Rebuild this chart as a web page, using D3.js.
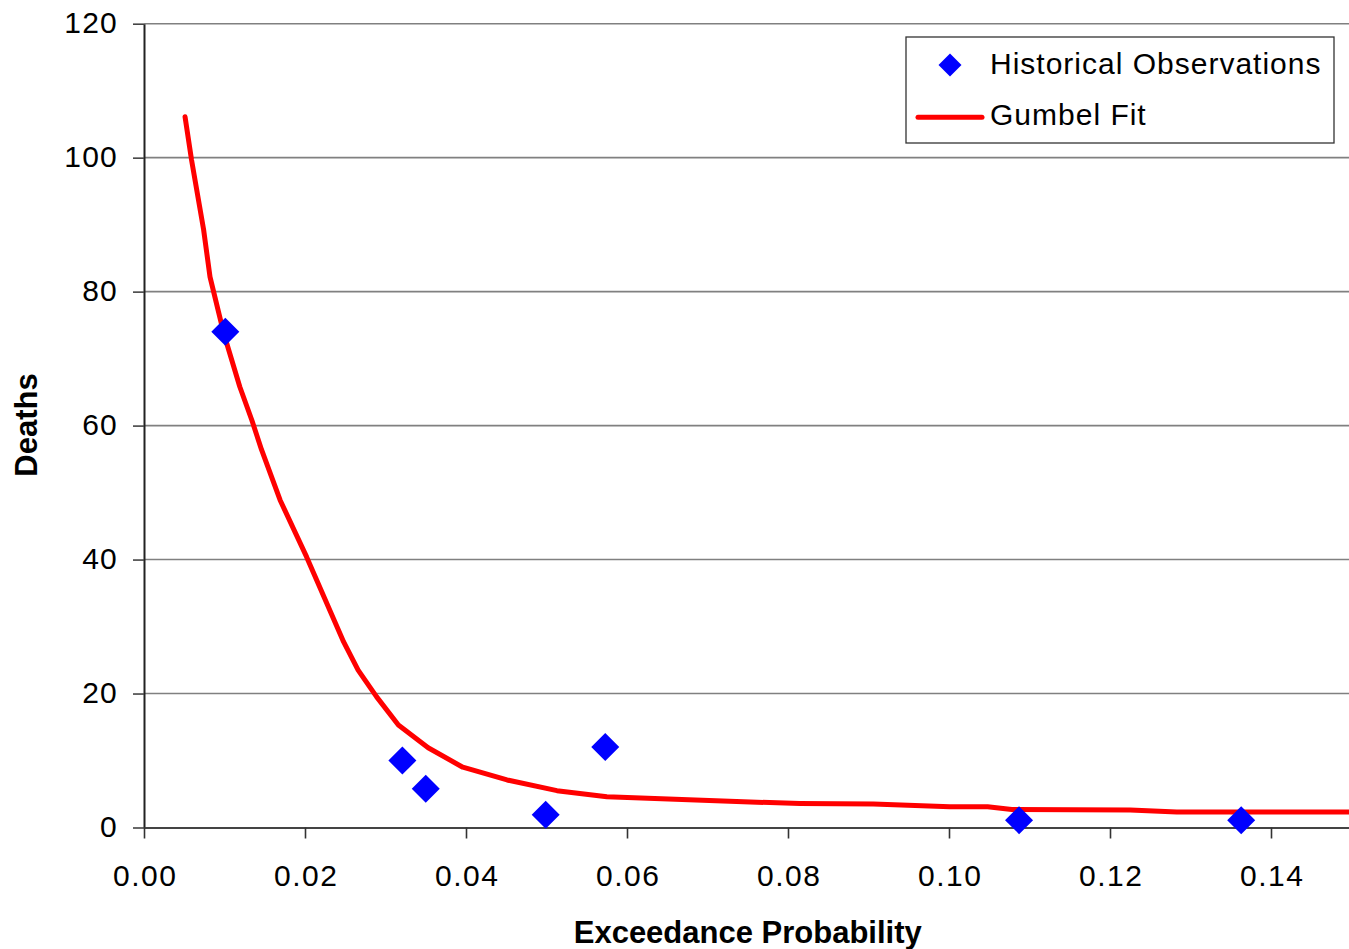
<!DOCTYPE html>
<html>
<head>
<meta charset="utf-8">
<script src="https://cdn.jsdelivr.net/npm/d3@7"></script>
<style>
  html, body { margin: 0; padding: 0; background: #fff; overflow: hidden; }
  svg { display: block; font-family: "Liberation Sans", Arial, sans-serif; }
</style>
</head>
<body>
<svg id="chart" width="1349" height="949"></svg>
<script>
// Historical observations (exceedance probability, deaths)
const obsProb   = [0.0101, 0.0321, 0.0350, 0.0499, 0.0573, 0.1087, 0.1363];
const obsDeaths = [74, 10, 5.8, 1.9, 12, 1.1, 1.1];

// Gumbel fit curve
const fitProb   = [0.0051, 0.0059, 0.0074, 0.0082, 0.0099, 0.0119, 0.0134, 0.0146, 0.0169, 0.0202,
                   0.0248, 0.0266, 0.0289, 0.0316, 0.0353, 0.0396, 0.0451, 0.0513, 0.0575, 0.0753,
                   0.0815, 0.0906, 0.1001, 0.1048, 0.1078, 0.1225, 0.1283, 0.1500];
const fitDeaths = [106.1, 99.7, 89.3, 82.2, 73.8, 65.8, 60.8, 56.4, 48.9, 40.4,
                   27.7, 23.5, 19.5, 15.3, 11.9, 9.0, 7.1, 5.5, 4.6, 3.8,
                   3.6, 3.5, 3.1, 3.1, 2.7, 2.6, 2.3, 2.3];

const xTicks = [0, 0.02, 0.04, 0.06, 0.08, 0.10, 0.12, 0.14];
const yTicks = [0, 20, 40, 60, 80, 100, 120];

const xTitle = "Exceedance Probability";
const yTitle = "Deaths";
const legendLabels = ["Historical Observations", "Gumbel Fit"];

const svg = d3.select("#chart");
svg.append("rect").attr("width", 1349).attr("height", 949).attr("fill", "#fff");

const x = d3.scaleLinear().domain([0, 0.15]).range([144, 1351.5]);
const y = d3.scaleLinear().domain([0, 120]).range([827.5, 23.7]);

// gridlines
svg.append("g").selectAll("line")
  .data(yTicks.filter(d => d > 0))
  .join("line")
  .attr("x1", x(0)).attr("x2", x(0.15))
  .attr("y1", d => y(d)).attr("y2", d => y(d))
  .attr("stroke", "#808080").attr("stroke-width", 1.6);

// y axis
const yAxis = svg.append("g").attr("transform", `translate(${x(0)},0)`)
  .call(d3.axisLeft(y).tickValues(yTicks).tickSize(11).tickSizeOuter(0).tickPadding(15)
        .tickFormat(d3.format("d")));
yAxis.select(".domain").attr("stroke", "#222").attr("stroke-width", 2);
yAxis.selectAll(".tick line").attr("stroke", "#444").attr("stroke-width", 1.6);
yAxis.selectAll(".tick text").attr("font-size", 30).attr("fill", "#000")
  .attr("letter-spacing", 1.2)
  .attr("font-family", "Liberation Sans, Arial, sans-serif").attr("dy", "0.3em");

// x axis
const xAxis = svg.append("g").attr("transform", `translate(0,${y(0)})`)
  .call(d3.axisBottom(x).tickValues(xTicks).tickSize(11).tickSizeOuter(0).tickPadding(26)
        .tickFormat(d3.format(".2f")));
xAxis.select(".domain").attr("stroke", "#444").attr("stroke-width", 2.2);
xAxis.selectAll(".tick line").attr("stroke", "#333").attr("stroke-width", 1.6);
xAxis.selectAll(".tick text").attr("font-size", 30).attr("fill", "#000")
  .attr("letter-spacing", 1.5).attr("dx", "0.75")
  .attr("font-family", "Liberation Sans, Arial, sans-serif");

// Gumbel fit line
const fitData = fitProb.map((p, i) => [p, fitDeaths[i]]);
svg.append("path")
  .datum(fitData)
  .attr("fill", "none")
  .attr("stroke", "#ff0000")
  .attr("stroke-width", 5)
  .attr("stroke-linejoin", "round")
  .attr("stroke-linecap", "round")
  .attr("d", d3.line().x(d => x(d[0])).y(d => y(d[1])));

// observations
const diamond = d3.symbol().type(d3.symbolSquare).size(392);
svg.append("g").selectAll("path")
  .data(obsProb.map((p, i) => [p, obsDeaths[i]]))
  .join("path")
  .attr("d", diamond)
  .attr("transform", d => `translate(${x(d[0])},${y(d[1])}) rotate(45)`)
  .attr("fill", "#0000ff");

// axis titles
svg.append("text")
  .attr("x", x(0.075)).attr("y", 943)
  .attr("text-anchor", "middle")
  .attr("font-size", 31).attr("font-weight", "bold").attr("fill", "#000")
  .text(xTitle);
svg.append("text")
  .attr("transform", `translate(37,425) rotate(-90)`)
  .attr("text-anchor", "middle")
  .attr("font-size", 31).attr("font-weight", "bold").attr("fill", "#000")
  .text(yTitle);

// legend
const lg = svg.append("g");
lg.append("rect").attr("x", 906).attr("y", 37).attr("width", 428).attr("height", 106)
  .attr("fill", "#fff").attr("stroke", "#333").attr("stroke-width", 1.3);
lg.append("path").attr("d", d3.symbol().type(d3.symbolSquare).size(265))
  .attr("transform", "translate(950,65) rotate(45)").attr("fill", "#0000ff");
lg.append("line").attr("x1", 918).attr("x2", 982).attr("y1", 117.3).attr("y2", 117.3)
  .attr("stroke", "#ff0000").attr("stroke-width", 5).attr("stroke-linecap", "round");
lg.selectAll("text.leg").data(legendLabels).join("text")
  .attr("class", "leg")
  .attr("x", 990).attr("y", (d, i) => 73.5 + i * 51)
  .attr("font-size", 30).attr("fill", "#000")
  .attr("letter-spacing", 1)
  .text(d => d);
</script>
</body>
</html>
